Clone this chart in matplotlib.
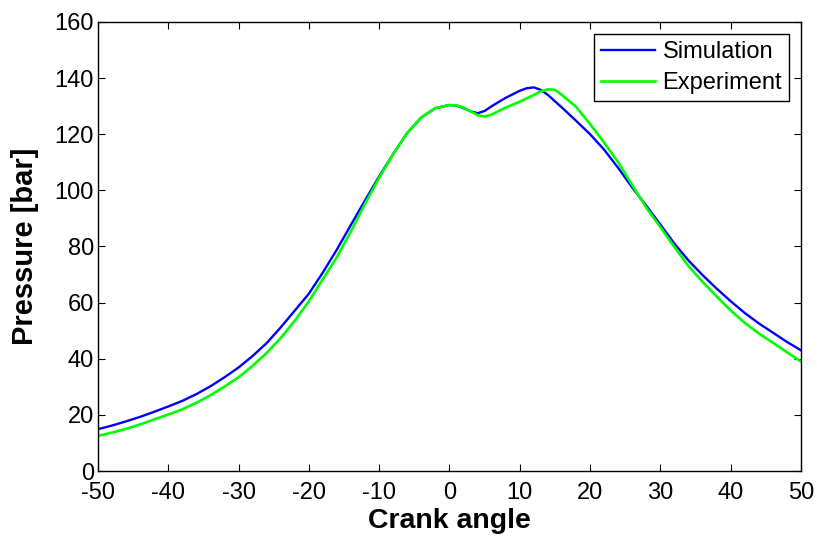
import matplotlib
matplotlib.use("Agg")
import matplotlib.pyplot as plt

plt.rcParams['font.family'] = ['Liberation Sans', 'DejaVu Sans']
plt.rcParams['axes.unicode_minus'] = False

# Simulation series
sim_angle = [-50, -48, -46, -44, -42, -40, -38, -36, -34, -32, -30, -28, -26, -24, -22,
             -20, -18, -16, -14, -12, -10, -8, -6, -4, -2, 0, 1, 2, 3, 4, 5, 6, 8,
             10, 11, 12, 13, 14, 16, 18, 20, 22, 24, 26, 28, 30, 32, 34, 36, 38,
             40, 42, 44, 46, 48, 50]
sim_pressure = [14.9, 16.2, 17.7, 19.3, 21.1, 23.0, 25.0, 27.4, 30.2, 33.4, 36.9, 41.0,
                45.6, 51.2, 57.2, 63.2, 70.8, 79.0, 87.8, 96.5, 105.0, 113.0, 120.5,
                126.0, 129.3, 130.4, 130.2, 129.3, 128.2, 127.5, 128.3, 130.0, 133.0,
                135.5, 136.4, 136.7, 135.8, 134.0, 129.5, 124.8, 120.0, 114.5, 108.0,
                101.0, 94.5, 87.8, 81.0, 75.0, 69.8, 65.0, 60.5, 56.3, 52.6, 49.3,
                46.0, 43.0]

# Experiment series
exp_angle = [-50, -48, -46, -44, -42, -40, -38, -36, -34, -32, -30, -28, -26, -24, -22,
             -20, -18, -16, -14, -12, -10, -8, -6, -4, -2, 0, 1, 2, 3, 4, 5, 6, 7, 8,
             10, 12, 13, 14, 15, 16, 18, 20, 22, 24, 26, 28, 30, 32, 34, 36, 38,
             40, 42, 44, 46, 48, 50]
exp_pressure = [12.5, 13.7, 15.0, 16.6, 18.4, 20.1, 22.0, 24.3, 27.0, 30.1, 33.4, 37.5,
                42.1, 47.4, 53.6, 60.5, 68.4, 76.3, 85.5, 95.3, 104.5, 113.0, 120.5,
                126.0, 129.3, 130.4, 130.3, 129.5, 128.2, 126.8, 126.3, 127.0, 128.3,
                129.5, 131.6, 134.0, 135.3, 136.0, 135.8, 134.0, 129.8, 123.6, 117.0,
                110.0, 101.8, 93.8, 86.9, 79.8, 73.0, 67.4, 62.2, 57.2, 52.8, 49.0,
                45.7, 42.3, 39.0]

x_ticks = [-50, -40, -30, -20, -10, 0, 10, 20, 30, 40, 50]
y_ticks = [0, 20, 40, 60, 80, 100, 120, 140, 160]

fig = plt.figure(figsize=(8.17, 5.36), dpi=100)
ax = fig.add_axes([98/817, 1 - 471/536, (801 - 98)/817, (471 - 22)/536])

ax.plot(sim_angle, sim_pressure, color=(0, 0, 1), lw=1.7, label='Simulation')
ax.plot(exp_angle, exp_pressure, color=(0, 1, 0), lw=1.9, label='Experiment')

ax.set_xlim(-50, 50)
ax.set_ylim(0, 160)
ax.set_xticks(x_ticks)
ax.set_yticks(y_ticks)
ax.tick_params(direction='in', top=True, right=True, length=5, width=0.8,
               labelsize=17)
ax.tick_params(axis='x', pad=8)
ax.tick_params(axis='y', pad=3)
for s in ax.spines.values():
    s.set_linewidth(1.0)

ax.set_xlabel('Crank angle', fontsize=20.5, fontweight='bold', labelpad=3)
ax.set_ylabel('Pressure [bar]', fontsize=21, fontweight='bold', labelpad=11)

leg = ax.legend(loc='upper right', fontsize=17, frameon=True, fancybox=False,
                edgecolor='black', framealpha=1, borderaxespad=0.5,
                handlelength=2.3, handletextpad=0.3, borderpad=0.3,
                labelspacing=0.4)
leg.get_frame().set_linewidth(1.0)

fig.savefig('out.png', dpi=100)
